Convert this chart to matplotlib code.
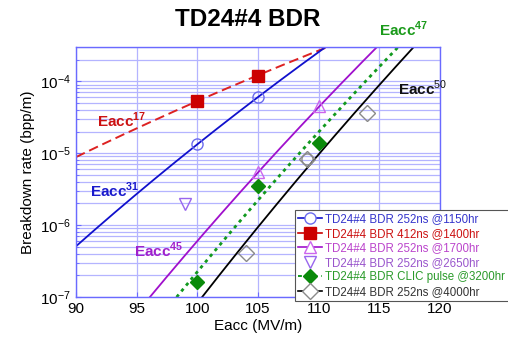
import matplotlib
matplotlib.use("Agg")
import matplotlib.pyplot as plt
from matplotlib.lines import Line2D
import numpy as np

plt.rcParams['font.family'] = ['Liberation Sans', 'DejaVu Sans']
plt.rcParams['mathtext.fontset'] = 'custom'
plt.rcParams['mathtext.rm'] = 'Liberation Sans'
plt.rcParams['mathtext.bf'] = 'Liberation Sans:bold'

# measured points
e_1150 = [100, 105]
bdr_1150 = [1.33e-5, 6.0e-5]
e_1400 = [100, 105]
bdr_1400 = [5.4e-5, 1.17e-4]
e_1700 = [105, 110]
bdr_1700 = [5.5e-6, 4.5e-5]
e_2650 = [99]
bdr_2650 = [1.94e-6]
e_3200 = [100, 105, 110]
bdr_3200 = [1.6e-7, 3.5e-6, 1.37e-5]
e_4000 = [104, 109, 114]
bdr_4000 = [4.1e-7, 8.3e-6, 3.6e-5]

# power law fits: exponent, rate at 100 MV/m
fit_n = [17, 31, 45, 47, 50]
fit_at100 = [5.3e-5, 1.33e-5, 5.4e-6 * (100 / 105) ** 45, 2.24e-7, 8.2e-8]

labels = ["TD24#4 BDR 252ns @1150hr", "TD24#4 BDR 412ns @1400hr",
          "TD24#4 BDR 252ns @1700hr", "TD24#4 BDR 252ns @2650hr",
          "TD24#4 BDR CLIC pulse @3200hr", "TD24#4 BDR 252ns @4000hr"]

fig = plt.figure(figsize=(5.08, 3.43), dpi=100)
ax = fig.add_axes([76 / 508, 1 - 297 / 343, 364 / 508, 250 / 343])
ax.set_yscale('log')
ax.set_xlim(90, 120)
ax.set_ylim(1e-7, 3e-4)
ax.set_xticks(np.arange(90, 121, 5))
ax.grid(True, which='both', color='#b4b4ff', lw=0.9)
ax.set_axisbelow(True)
for s in ax.spines.values():
    s.set_color('#6a6aff')
    s.set_linewidth(1.0)
ax.tick_params(which='both', direction='in', colors='#6a6aff', labelcolor='black',
               labelsize=11)

x = np.linspace(90, 120, 300)
fit_styles = [dict(color='#dd2222', ls=(0, (5, 2.5)), lw=1.4),
              dict(color='#1010cc', ls='-', lw=1.3),
              dict(color='#a010cc', ls='-', lw=1.3),
              dict(color='#11991f', ls=(0, (1.2, 1.5)), lw=2.0),
              dict(color='black', ls='-', lw=1.3)]
for n, a, st in zip(fit_n, fit_at100, fit_styles):
    ax.plot(x, a * (x / 100) ** n, **st)

ax.plot(e_1150, bdr_1150, 'o', ms=8, mfc='none', mec='#6b6bee', mew=1.0)
ax.plot(e_1400, bdr_1400, 's', ms=8, color='#cc0000')
ax.plot(e_1700, bdr_1700, '^', ms=9, mfc='none', mec='#cc66ee', mew=1.0)
ax.plot(e_2650, bdr_2650, 'v', ms=9, mfc='none', mec='#9966ee', mew=1.0)
ax.plot(e_3200, bdr_3200, 'D', ms=7, color='#0a8a0a')
ax.plot(e_4000, bdr_4000, 'D', ms=8, mfc='none', mec='#8a8a8a', mew=1.0)
ax.plot(e_4000[1:2], bdr_4000[1:2], 'o', ms=8, mfc='none', mec='#8a8a8a', mew=1.0)

ax.text(91.7, 2.3e-5, r'$\mathbf{Eacc}^{\mathbf{17}}$', color='#cc1111', fontsize=11)
ax.text(91.15, 2.45e-6, r'$\mathbf{Eacc}^{\mathbf{31}}$', color='#1a1acc', fontsize=11)
ax.text(94.8, 3.6e-7, r'$\mathbf{Eacc}^{\mathbf{45}}$', color='#a020cc', fontsize=11)
ax.text(115.0, 4.2e-4, r'$\mathbf{Eacc}^{\mathbf{47}}$', color='#1a9a1a', fontsize=11)
ax.text(116.5, 6.4e-5, r'$\mathbf{Eacc}^{50}$', color='#111111', fontsize=11)

ax.set_xlabel('Eacc (MV/m)', fontsize=11, labelpad=2)
ax.set_ylabel('Breakdown rate (bpp/m)', fontsize=11, labelpad=4)
fig.text(248 / 508, 1 - 19 / 343, 'TD24#4 BDR', ha='center', va='center',
         fontsize=17.5, fontweight='bold')

handles = [
    Line2D([], [], color='#1010cc', lw=1.2, marker='o', ms=8, mfc='white', mec='#6b6bee'),
    Line2D([], [], color='#cc0000', lw=1.2, marker='s', ms=8, mfc='#cc0000', mec='#cc0000'),
    Line2D([], [], color='#a010cc', lw=1.2, marker='^', ms=9, mfc='white', mec='#cc66ee'),
    Line2D([], [], ls='none', marker='v', ms=9, mfc='white', mec='#9966ee'),
    Line2D([], [], color='#11991f', ls=(0, (2, 2)), lw=1.4, marker='D', ms=7, mfc='#0a8a0a', mec='#0a8a0a'),
    Line2D([], [], color='black', lw=1.2, marker='D', ms=8, mfc='white', mec='#8a8a8a'),
]
leg = fig.legend(handles, labels, loc='upper left', bbox_to_anchor=(289 / 508, 1 - 204 / 343),
                 fontsize=8.3, handlelength=2.1, handletextpad=0.25, labelspacing=0.22,
                 borderpad=0.3, fancybox=False, framealpha=1, edgecolor='#555555')
leg.get_frame().set_linewidth(0.8)
text_colors = ['#3535cc', '#cc1111', '#bb44cc', '#9955cc', '#2a9a2a', '#333333']
for t, c in zip(leg.get_texts(), text_colors):
    t.set_color(c)

fig.savefig('out.png', dpi=100)
